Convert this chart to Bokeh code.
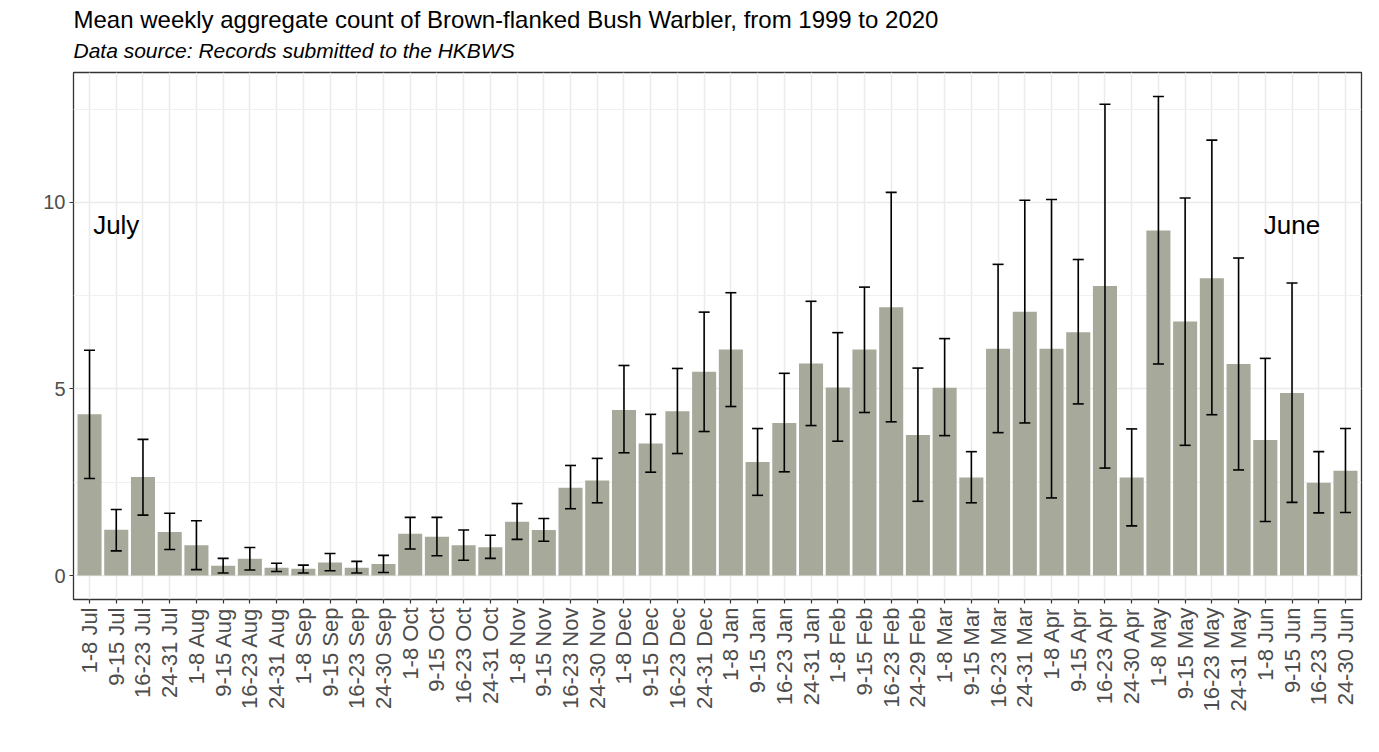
import math
from bokeh.plotting import figure
from bokeh.models import ColumnDataSource, Range1d, FixedTicker, Whisker, TeeHead, Title
from bokeh.core.properties import value
from bokeh.embed import file_html
from bokeh.resources import INLINE

weeks = [
    "1-8 Jul", "9-15 Jul", "16-23 Jul", "24-31 Jul",
    "1-8 Aug", "9-15 Aug", "16-23 Aug", "24-31 Aug",
    "1-8 Sep", "9-15 Sep", "16-23 Sep", "24-30 Sep",
    "1-8 Oct", "9-15 Oct", "16-23 Oct", "24-31 Oct",
    "1-8 Nov", "9-15 Nov", "16-23 Nov", "24-30 Nov",
    "1-8 Dec", "9-15 Dec", "16-23 Dec", "24-31 Dec",
    "1-8 Jan", "9-15 Jan", "16-23 Jan", "24-31 Jan",
    "1-8 Feb", "9-15 Feb", "16-23 Feb", "24-29 Feb",
    "1-8 Mar", "9-15 Mar", "16-23 Mar", "24-31 Mar",
    "1-8 Apr", "9-15 Apr", "16-23 Apr", "24-30 Apr",
    "1-8 May", "9-15 May", "16-23 May", "24-31 May",
    "1-8 Jun", "9-15 Jun", "16-23 Jun", "24-30 Jun",
]

mean_count = [4.32, 1.23, 2.64, 1.17, 0.81, 0.26, 0.45, 0.21, 0.18, 0.35, 0.21, 0.31,
              1.12, 1.04, 0.81, 0.76, 1.44, 1.22, 2.35, 2.55, 4.44, 3.54, 4.40, 5.46,
              6.06, 3.04, 4.09, 5.68, 5.04, 6.06, 7.19, 3.77, 5.03, 2.63, 6.08, 7.07,
              6.08, 6.52, 7.76, 2.63, 9.25, 6.81, 7.97, 5.67, 3.63, 4.89, 2.49, 2.81]

upper_ci = [6.04, 1.77, 3.65, 1.67, 1.47, 0.46, 0.75, 0.33, 0.28, 0.59, 0.38, 0.54,
            1.56, 1.56, 1.22, 1.08, 1.93, 1.53, 2.95, 3.14, 5.63, 4.32, 5.55, 7.06,
            7.58, 3.94, 5.42, 7.35, 6.51, 7.73, 10.27, 5.56, 6.35, 3.32, 8.34, 10.06,
            10.08, 8.47, 12.63, 3.93, 12.84, 10.12, 11.67, 8.51, 5.82, 7.84, 3.32, 3.94]

lower_ci = [2.60, 0.66, 1.62, 0.70, 0.16, 0.07, 0.15, 0.11, 0.07, 0.13, 0.07, 0.08,
            0.71, 0.53, 0.41, 0.46, 0.97, 0.92, 1.79, 1.95, 3.29, 2.77, 3.27, 3.86,
            4.53, 2.15, 2.78, 4.02, 3.60, 4.37, 4.12, 1.99, 3.75, 1.95, 3.83, 4.09,
            2.08, 4.60, 2.88, 1.33, 5.67, 3.49, 4.31, 2.83, 1.45, 1.96, 1.68, 1.69]

y_ticks = [0, 5, 10]
y_minor = [2.5, 7.5, 12.5]

month_labels = ["July", "June"]
month_label_pos = [2, 46]
month_label_y = [9.4, 9.4]

title_text = "Mean weekly aggregate count of Brown-flanked Bush Warbler, from 1999 to 2020"
subtitle_text = "Data source: Records submitted to the HKBWS"

FONT = "Liberation Sans"

positions = list(range(1, len(weeks) + 1))
src = ColumnDataSource(dict(x=positions, mean=mean_count, upper=upper_ci, lower=lower_ci))

ymax = max(upper_ci)
pad = ymax * 0.05
p = figure(width=1363, height=736, output_backend="svg", toolbar_location=None,
           x_range=Range1d(0.4, len(weeks) + 0.6), y_range=Range1d(-pad, ymax + pad),
           min_border_left=73, min_border_right=2, min_border_bottom=137, min_border_top=72,
           background_fill_color="white", border_fill_color="white")

p.add_layout(Title(text=subtitle_text, text_font=FONT, text_font_size="21px",
                   text_font_style="italic", text_color="black", align="left",
                   standoff=21), "above")
p.add_layout(Title(text=title_text, text_font=FONT, text_font_size="24px",
                   text_font_style="normal", text_color="black", align="left",
                   standoff=-13), "above")

p.vbar(x="x", top="mean", width=0.9, source=src, fill_color="#A7A99A", line_color=None)

wh = Whisker(source=src, base="x", upper="upper", lower="lower", dimension="height",
             line_color="black", line_width=1.6,
             upper_head=TeeHead(size=11, line_color="black", line_width=1.6),
             lower_head=TeeHead(size=11, line_color="black", line_width=1.6))
wh.level = "overlay"
p.add_layout(wh)

p.text(x=month_label_pos, y=month_label_y, text=month_labels, text_font=value(FONT),
       text_font_size="26px", text_align="center", text_baseline="middle", text_color="black")

p.xaxis.ticker = FixedTicker(ticks=positions)
p.xaxis.major_label_overrides = {pos: lab for pos, lab in zip(positions, weeks)}
p.xaxis.major_label_orientation = math.pi / 2
p.yaxis.ticker = FixedTicker(ticks=y_ticks, minor_ticks=y_minor)

for ax in (p.xaxis[0], p.yaxis[0]):
    ax.axis_line_color = None
    ax.major_tick_line_color = "#333333"
    ax.major_tick_line_width = 1.2
    ax.major_tick_in = 0
    ax.major_tick_out = 4
    ax.minor_tick_line_color = None
    ax.major_label_text_font = FONT
    ax.major_label_text_color = "#4D4D4D"
    ax.major_label_standoff = 4
p.xaxis.major_label_text_font_size = "22px"
p.yaxis.major_label_text_font_size = "20px"

p.xgrid.grid_line_color = "#EBEBEB"
p.xgrid.grid_line_width = 1.5
p.ygrid.grid_line_color = "#EBEBEB"
p.ygrid.grid_line_width = 1.5
p.ygrid.minor_grid_line_color = "#F0F0F0"
p.ygrid.minor_grid_line_width = 1.2

p.outline_line_color = "#333333"
p.outline_line_width = 1.3
p.outline_line_alpha = 1.0

open("out.html", "w").write(file_html(p, INLINE))
